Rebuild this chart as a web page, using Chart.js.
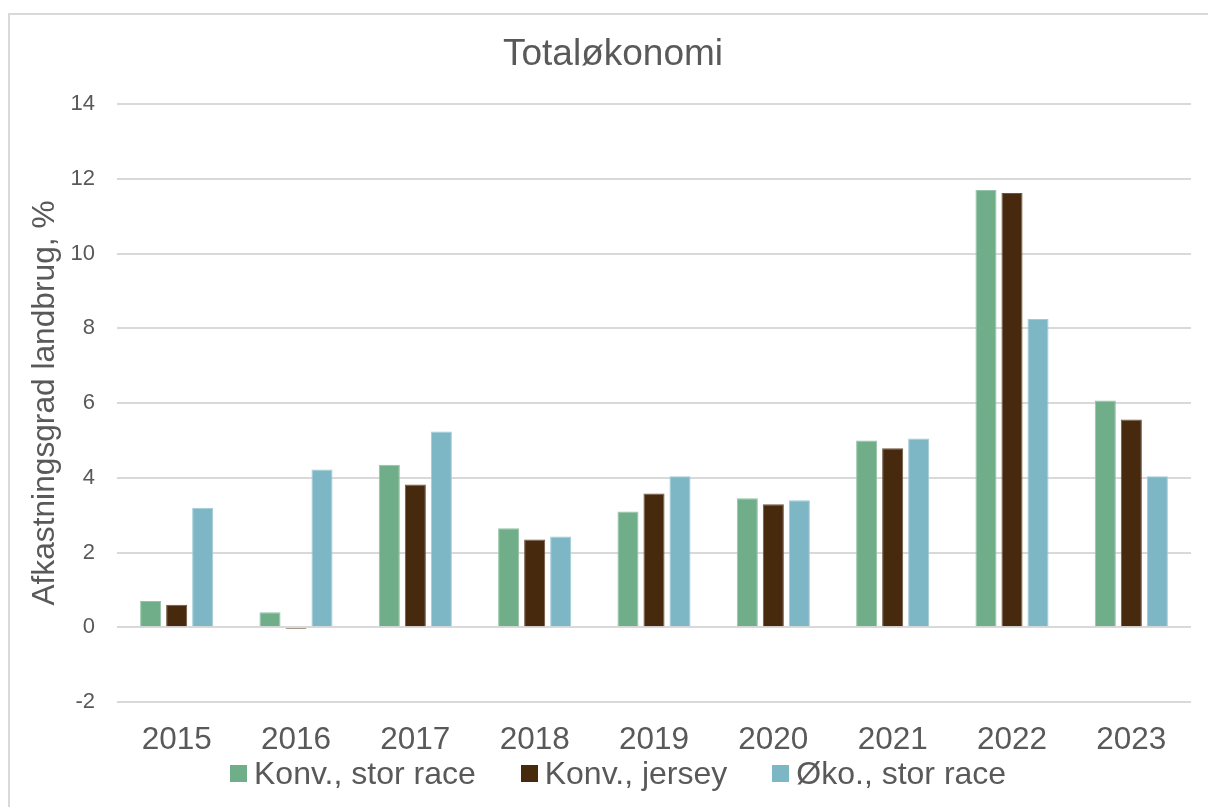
<!DOCTYPE html>
<html>
<head>
<meta charset="utf-8">
<script src="https://cdn.jsdelivr.net/npm/chart.js@4.4.0/dist/chart.umd.min.js"></script>
<style>
  html, body { margin: 0; padding: 0; background: #ffffff; }
  #wrap { position: relative; width: 1208px; height: 807px; overflow: hidden; }
  #c { position: absolute; left: 0; top: 0; }
  #legend { position: absolute; left: 230px; top: 755px; display: flex; align-items: center;
            font-family: "Liberation Sans", Arial, sans-serif; font-size: 32px; color: #595959; white-space: nowrap; }
  #legend .item { display: flex; align-items: center; margin-right: 45px; }
  #legend .box { width: 17px; height: 17px; margin-right: 7px; }
</style>
</head>
<body>
<div id="wrap">
  <canvas id="c" width="1208" height="807"></canvas>
  <div id="legend"></div>
</div>
<script>
const chartTitle = "Totaløkonomi";
const yAxisTitle = "Afkastningsgrad landbrug, %";
const categories = ["2015", "2016", "2017", "2018", "2019", "2020", "2021", "2022", "2023"];
const seriesNames = ["Konv., stor race", "Konv., jersey", "Øko., stor race"];
const konvStorRace = [0.7, 0.4, 4.35, 2.65, 3.1, 3.45, 5.0, 11.7, 6.07];
const konvJersey   = [0.6, -0.05, 3.82, 2.35, 3.58, 3.29, 4.79, 11.62, 5.56];
const okoStorRace  = [3.2, 4.22, 5.24, 2.43, 4.04, 3.4, 5.05, 8.25, 4.04];
const yMin = -2, yMax = 14, yStep = 2;

const colors = ["#70AE89", "#47290E", "#7DB7C6"];
const edgeColors = ["#95c3a7", "#6e5640", "#a3cbd6"];
const seriesValues = [konvStorRace, konvJersey, okoStorRace];

const textColor = "#595959";
const gridColor = "#d9d9d9";
const fontFam = '"Liberation Sans", Arial, sans-serif';

const framePlugin = {
  id: 'frame',
  beforeDraw(chart) {
    const ctx = chart.ctx;
    ctx.save();
    ctx.strokeStyle = gridColor;
    ctx.lineWidth = 2;
    ctx.beginPath();
    ctx.moveTo(9, 807);
    ctx.lineTo(9, 14);
    ctx.lineTo(1208, 14);
    ctx.stroke();
    ctx.restore();
  }
};

new Chart(document.getElementById('c'), {
  type: 'bar',
  data: {
    labels: categories,
    datasets: seriesValues.map((vals, i) => ({
      label: seriesNames[i],
      data: vals,
      backgroundColor: colors[i],
      borderColor: edgeColors[i],
      borderWidth: 1,
      barPercentage: 0.81,
      categoryPercentage: 0.654
    }))
  },
  options: {
    responsive: false,
    animation: false,
    devicePixelRatio: 1,
    layout: { padding: { left: 35, right: 17, top: 0, bottom: 0 } },
    plugins: {
      legend: { display: false },
      tooltip: { enabled: false },
      title: {
        display: true,
        text: chartTitle,
        color: textColor,
        font: { family: fontFam, size: 37, weight: 'normal', lineHeight: 1.2 },
        padding: { top: 32.8, bottom: 26.8 }
      }
    },
    scales: {
      x: {
        grid: { display: false, drawTicks: false },
        border: { display: false },
        ticks: {
          color: textColor,
          font: { family: fontFam, size: 31.5, lineHeight: 1.2 },
          padding: 19,
          maxRotation: 0,
          autoSkip: false
        },
        afterFit(scale) { scale.height = 105; }
      },
      y: {
        min: yMin,
        max: yMax,
        grid: { color: gridColor, lineWidth: 2, drawTicks: false },
        border: { display: false },
        ticks: {
          stepSize: yStep,
          color: textColor,
          font: { family: fontFam, size: 22 },
          padding: 22
        },
        title: {
          display: true,
          text: yAxisTitle,
          color: textColor,
          font: { family: fontFam, size: 31.7, lineHeight: 1.2 },
          padding: { top: -9, bottom: 0 }
        },
        afterFit(scale) { scale.width = 82; }
      }
    }
  },
  plugins: [framePlugin]
});

const legendEl = document.getElementById('legend');
seriesNames.forEach((name, i) => {
  const item = document.createElement('div');
  item.className = 'item';
  const box = document.createElement('span');
  box.className = 'box';
  box.style.background = colors[i];
  const txt = document.createElement('span');
  txt.textContent = name;
  item.appendChild(box);
  item.appendChild(txt);
  legendEl.appendChild(item);
});
</script>
</body>
</html>
